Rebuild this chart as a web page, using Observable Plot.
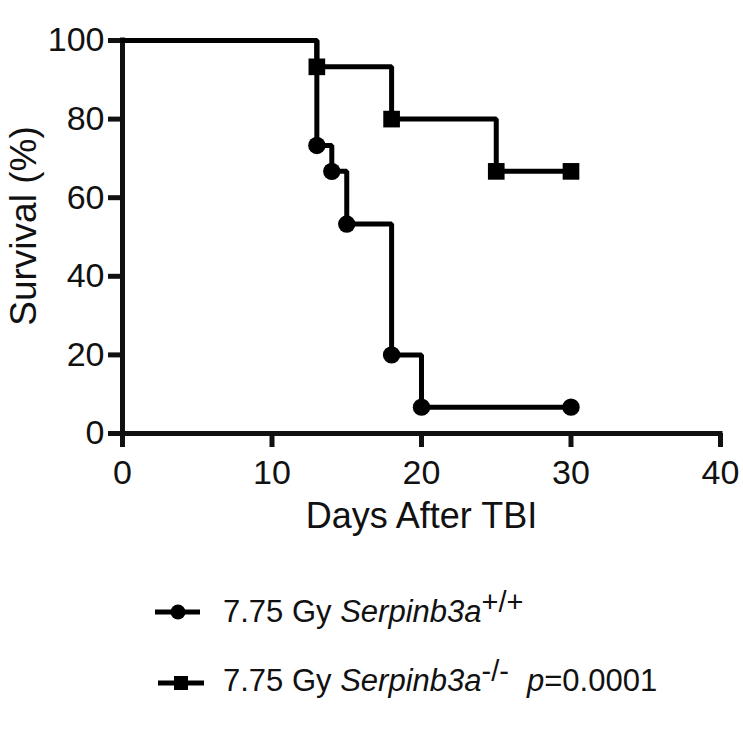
<!DOCTYPE html>
<html>
<head>
<meta charset="utf-8">
<script src="https://cdn.jsdelivr.net/npm/d3@7"></script>
<script src="https://cdn.jsdelivr.net/npm/@observablehq/plot@0.6"></script>
<style>
  html, body { margin: 0; padding: 0; background: white; }
  #chart svg { display: block; }
</style>
</head>
<body>
<div id="chart"></div>
<script>
// ---- data ----
const days_wt = [0, 13, 14, 15, 18, 20, 30];
const surv_wt = [100, 73.3, 66.7, 53.3, 20, 6.7, 6.7];
const days_ko = [0, 13, 18, 25, 30];
const surv_ko = [100, 93.3, 80, 66.7, 66.7];
const xTicks = [0, 10, 20, 30, 40];
const yTicks = [0, 20, 40, 60, 80, 100];
const xLabel = "Days After TBI";
const yLabel = "Survival (%)";
const legendPrefix = "7.75 Gy ";
const legendGene = "Serpinb3a";
const legendSup = ["+/+", "-/-"];
const pValueText = "=0.0001";

const wt = days_wt.map((d, i) => ({day: d, surv: surv_wt[i]}));
const ko = days_ko.map((d, i) => ({day: d, surv: surv_ko[i]}));

const FONT = "'Liberation Sans', Arial, Helvetica, sans-serif";
const INK = "#111";

const chart = Plot.plot({
  width: 743,
  height: 570,
  marginLeft: 122,
  marginRight: 23,
  marginTop: 40,
  marginBottom: 137,
  x: {domain: [0, 40]},
  y: {domain: [0, 100]},
  style: {fontFamily: FONT, color: INK, background: "white", overflow: "visible"},
  marks: [
    Plot.axisX({ticks: xTicks, tickSize: 14, tickPadding: 12, strokeWidth: 5, fontSize: 34, label: null}),
    Plot.axisY({ticks: yTicks, tickSize: 14, tickPadding: 4, strokeWidth: 5, fontSize: 34, label: null}),
    Plot.ruleX([0], {strokeWidth: 5, strokeLinecap: "square", stroke: INK}),
    Plot.ruleY([0], {strokeWidth: 5, strokeLinecap: "square", stroke: INK}),
    Plot.line(wt, {x: "day", y: "surv", curve: "step-after", stroke: "black", strokeWidth: 5, strokeLinejoin: "miter"}),
    Plot.line(ko, {x: "day", y: "surv", curve: "step-after", stroke: "black", strokeWidth: 5, strokeLinejoin: "miter"}),
    Plot.dot(wt.filter(d => d.day > 0), {x: "day", y: "surv", symbol: "circle", r: 8.7, fill: "black", stroke: null}),
    Plot.dot(ko.filter(d => d.day > 0), {x: "day", y: "surv", symbol: "square", r: 9.4, fill: "black", stroke: null}),
    Plot.text([xLabel], {text: d => d, frameAnchor: "bottom", textAnchor: "middle", lineAnchor: "bottom", dy: 94, fontSize: 36, fill: INK}),
    Plot.text([yLabel], {text: d => d, frameAnchor: "left", textAnchor: "middle", rotate: -90, lineAnchor: "bottom", dx: -87, dy: -11, fontSize: 37, fill: INK})
  ]
});
document.getElementById("chart").appendChild(chart);

// ---- legend below the chart ----
const leg = d3.select("#chart").append("svg")
  .attr("width", 743).attr("height", 182)
  .style("display", "block")
  .attr("font-family", FONT);

const rows = [
  {cy: 42, base: 52, sym: d3.symbolCircle, size: Math.PI * 7.5 * 7.5, x0: 155, x1: 200, cx: 178},
  {cy: 113, base: 121, sym: d3.symbolSquare, size: 14 * 14, x0: 158, x1: 204, cx: 181}
];
rows.forEach((r, i) => {
  leg.append("line").attr("x1", r.x0).attr("x2", r.x1).attr("y1", r.cy).attr("y2", r.cy)
    .attr("stroke", "black").attr("stroke-width", 5);
  leg.append("path").attr("d", d3.symbol(r.sym, r.size)())
    .attr("transform", `translate(${r.cx},${r.cy})`).attr("fill", "black");
  const t = leg.append("text").attr("x", 223).attr("y", r.base).attr("font-size", 31).attr("fill", INK);
  t.append("tspan").attr("xml:space", "preserve").text(legendPrefix);
  t.append("tspan").attr("font-style", "italic").text(legendGene);
  t.append("tspan").attr("font-size", 29).attr("dy", -10).text(legendSup[i]);
  if (i === 1) {
    const p = leg.append("text").attr("x", 527).attr("y", r.base).attr("font-size", 31).attr("fill", INK);
    p.append("tspan").attr("font-style", "italic").text("p");
    p.append("tspan").text(pValueText);
  }
});
</script>
</body>
</html>
